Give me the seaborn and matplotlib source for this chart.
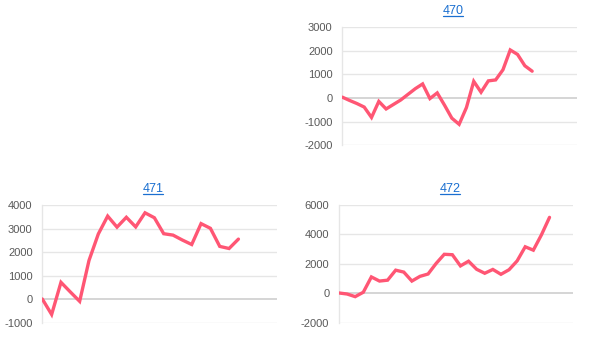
import matplotlib
matplotlib.use("Agg")
import matplotlib.pyplot as plt
import seaborn as sns
import pandas as pd
import numpy as np

# ---- data ----
titles = ["470", "471", "472"]
values_470 = [40, -100, -230, -380, -820, -140, -460, -270, -80, 160, 400, 600, -20, 220,
              -300, -850, -1110, -400, 710, 250, 730, 770, 1200, 2040, 1850, 1370, 1140]
values_471 = [10, -650, 720, 310, -90, 1650, 2780, 3540, 3070, 3490, 3080, 3680, 3470,
              2790, 2730, 2520, 2330, 3220, 3020, 2250, 2160, 2560]
values_472 = [20, -50, -230, 70, 1110, 830, 890, 1570, 1440, 830, 1150, 1310, 2030, 2650,
              2620, 1860, 2180, 1630, 1360, 1620, 1290, 1600, 2200, 3160, 2930, 3970, 5160]
yticks_470 = [-2000, -1000, 0, 1000, 2000, 3000]
yticks_471 = [-1000, 0, 1000, 2000, 3000, 4000]
yticks_472 = [-2000, 0, 2000, 4000, 6000]

sns.set_style("white")
plt.rcParams["font.family"] = ["Liberation Sans", "DejaVu Sans"]

W, H = 604, 351
fig = plt.figure(figsize=(W / 100, H / 100), dpi=100)

LINE = "#ff5674"
GRID = "#e6e6e6"
TXT = "#595959"
TITLE_C = "#1a6fd0"

panels = [
    # title, values, yticks, (left, right, top, bottom) px, xmax, title pos
    (titles[0], values_470, yticks_470, (342.3, 576.7, 27.3, 145.3), 32.1, (453, 10.5)),
    (titles[1], values_471, yticks_471, (42.3, 276.7, 205.3, 322.7), 25.1, (153, 188.5)),
    (titles[2], values_472, yticks_472, (339.0, 573.0, 205.0, 322.7), 28.9, (450, 188.5)),
]

for title, vals, yt, (l, r, t, b), xmax, (tx, ty) in panels:
    ax = fig.add_axes([l / W, (H - b) / H, (r - l) / W, (b - t) / H])
    df = pd.DataFrame({"x": np.arange(len(vals)), "y": vals})
    sns.lineplot(data=df, x="x", y="y", ax=ax, color=LINE, linewidth=2.4,
                 zorder=5, solid_joinstyle="miter")
    ax.set_xlim(0, xmax)
    ax.set_ylim(yt[0], yt[-1])
    ax.set_yticks(yt)
    ax.set_yticklabels([str(v) for v in yt])
    ax.set_xticks([])
    ax.set_xlabel("")
    ax.set_ylabel("")
    for v in yt:
        if v == 0:
            ax.axhline(v, color="#d2d2d2", lw=1.3, zorder=1)
        else:
            ax.axhline(v, color=GRID, lw=1.0, zorder=1)
    for s in ["top", "right", "bottom"]:
        ax.spines[s].set_visible(False)
    ax.spines["left"].set_color(GRID)
    ax.spines["left"].set_linewidth(1.0)
    ax.tick_params(axis="y", length=6, width=1.0, color=GRID, pad=1,
                   labelsize=8, labelcolor=TXT)
    ax.patch.set_alpha(0)
    fig.text(tx / W, 1 - ty / H, title, ha="center", va="center",
             fontsize=9, color=TITLE_C)
    # underline of the link-style title
    tw = 20
    fig.add_artist(plt.Line2D([(tx - tw / 2) / W, (tx + tw / 2) / W],
                              [1 - (ty + 5) / H, 1 - (ty + 5) / H],
                              color=TITLE_C, lw=0.9))

fig.savefig("out.png", dpi=100)
